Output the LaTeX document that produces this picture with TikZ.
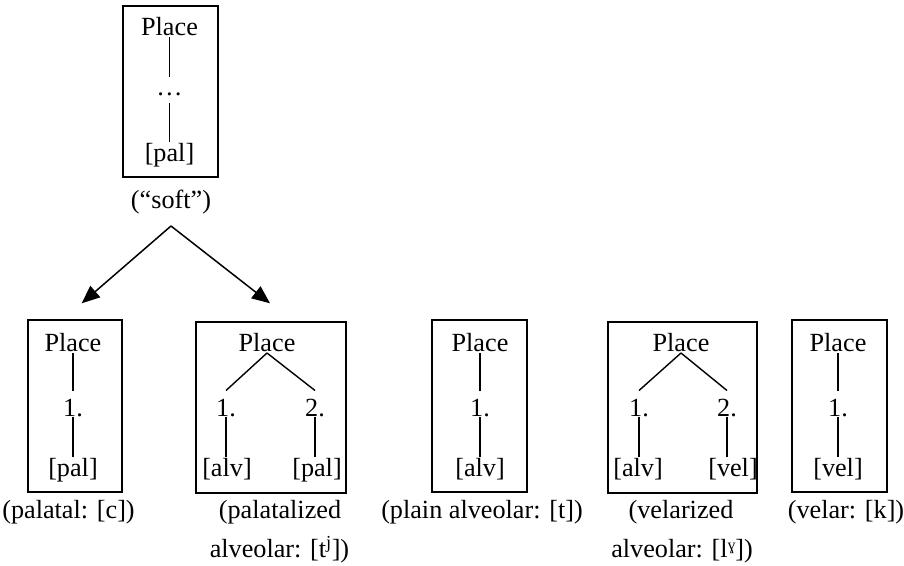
\documentclass[tikz,border=0pt]{standalone}
\usepackage{fontspec}
\setmainfont{Liberation Serif}
\usetikzlibrary{arrows.meta}
\begin{document}
\begin{tikzpicture}[x=1pt,y=-1pt,
  txt/.style={inner sep=0pt, outer sep=0pt, anchor=base,
              font=\fontsize{26.2}{30}\selectfont, text depth=0pt},
  head/.style={txt, text depth=1.5pt},
  num/.style={txt, text height=26pt},
  feat/.style={txt, text height=20pt},
  gap/.style={txt, text height=18.5pt, text depth=7pt},
  frame/.style={draw, line width=1.5pt, inner sep=0pt, outer sep=0pt},
  branch/.style={line width=1.4pt},
  arr/.style={line width=1.5pt, -{Triangle[length=18pt,width=15pt]}},
]
\useasboundingbox (0,0) rectangle (904,565);

% the general "soft" place specification
\node[frame, minimum width=95pt, minimum height=171pt] (tb) at (170.5,91.5) {};
\node[head] (tp) at (169.5,35.8) {Place};
\node[gap]  (td) at (169.5,95.5) {…};
\node[feat] (tf) at (169.5,161.6) {[pal]};
\node[txt]  (soft) at (171,208.5) {(“soft”)};
\draw[branch] (tp.south) -- (td.north);
\draw[branch] (td.south) -- (tf.north);

% the two realisations
\coordinate (fork) at (171,226);
\coordinate (tipL) at (81.7,303.3);
\coordinate (tipR) at (270,303.3);
\draw[arr] (fork) -- (tipL);
\draw[arr] (fork) -- (tipR);

% palatal
\node[frame, minimum width=94pt, minimum height=172pt] (b1) at (75,406) {};
\node[head] (p1) at (73,351.5) {Place};
\node[num]  (n1) at (73,416.5) {1.};
\node[feat] (f1) at (73,476.6) {[pal]};
\node[txt]  (c1) at (68.5,518.5) {(palatal: [c])};
\draw[branch] (p1.south) -- (n1.north);
\draw[branch] (n1.south) -- (f1.north);

% palatalized alveolar
\node[frame, minimum width=150pt, minimum height=171pt] (b2) at (271,407.5) {};
\node[head] (p2)  at (267,351.5) {Place};
\node[num]  (n2a) at (226,416.5) {1.};
\node[num]  (n2b) at (315,416.5) {2.};
\node[feat] (f2a) at (227,476.6) {[alv]};
\node[feat] (f2b) at (317,476.6) {[pal]};
\node[txt]  (c2a) at (280,518.5) {(palatalized};
\node[txt]  (c2b) at (279.5,557.5) {alveolar: [t\textsuperscript{j}])};
\draw[branch] (p2.south) -- (n2a.north);
\draw[branch] (p2.south) -- (n2b.north);
\draw[branch] (n2a.south) -- (n2a.south |- f2a.north);
\draw[branch] (n2b.south) -- (n2b.south |- f2b.north);

% plain alveolar
\node[frame, minimum width=95pt, minimum height=172pt] (b3) at (479.5,406) {};
\node[head] (p3) at (480,351.5) {Place};
\node[num]  (n3) at (480,416.5) {1.};
\node[feat] (f3) at (480,476.6) {[alv]};
\node[txt]  (c3) at (482,518.5) {(plain alveolar: [t])};
\draw[branch] (p3.south) -- (n3.north);
\draw[branch] (n3.south) -- (f3.north);

% velarized alveolar
\node[frame, minimum width=149pt, minimum height=171pt] (b4) at (682.5,407.5) {};
\node[head] (p4)  at (681,351.5) {Place};
\node[num]  (n4a) at (639,416.5) {1.};
\node[num]  (n4b) at (727,416.5) {2.};
\node[feat] (f4a) at (638,476.6) {[alv]};
\node[feat] (f4b) at (733,476.6) {[vel]};
\node[txt]  (c4a) at (681,518.5) {(velarized};
\node[txt]  (c4b) at (682,557.5) {alveolar: [lˠ])};
\draw[branch] (p4.south) -- (n4a.north);
\draw[branch] (p4.south) -- (n4b.north);
\draw[branch] (n4a.south) -- (n4a.south |- f4a.north);
\draw[branch] (n4b.south) -- (n4b.south |- f4b.north);

% velar
\node[frame, minimum width=95pt, minimum height=172pt] (b5) at (839.5,406) {};
\node[head] (p5) at (838,351.5) {Place};
\node[num]  (n5) at (838,416.5) {1.};
\node[feat] (f5) at (838,476.6) {[vel]};
\node[txt]  (c5) at (846,518.5) {(velar: [k])};
\draw[branch] (p5.south) -- (n5.north);
\draw[branch] (n5.south) -- (f5.north);
\end{tikzpicture}
\end{document}
